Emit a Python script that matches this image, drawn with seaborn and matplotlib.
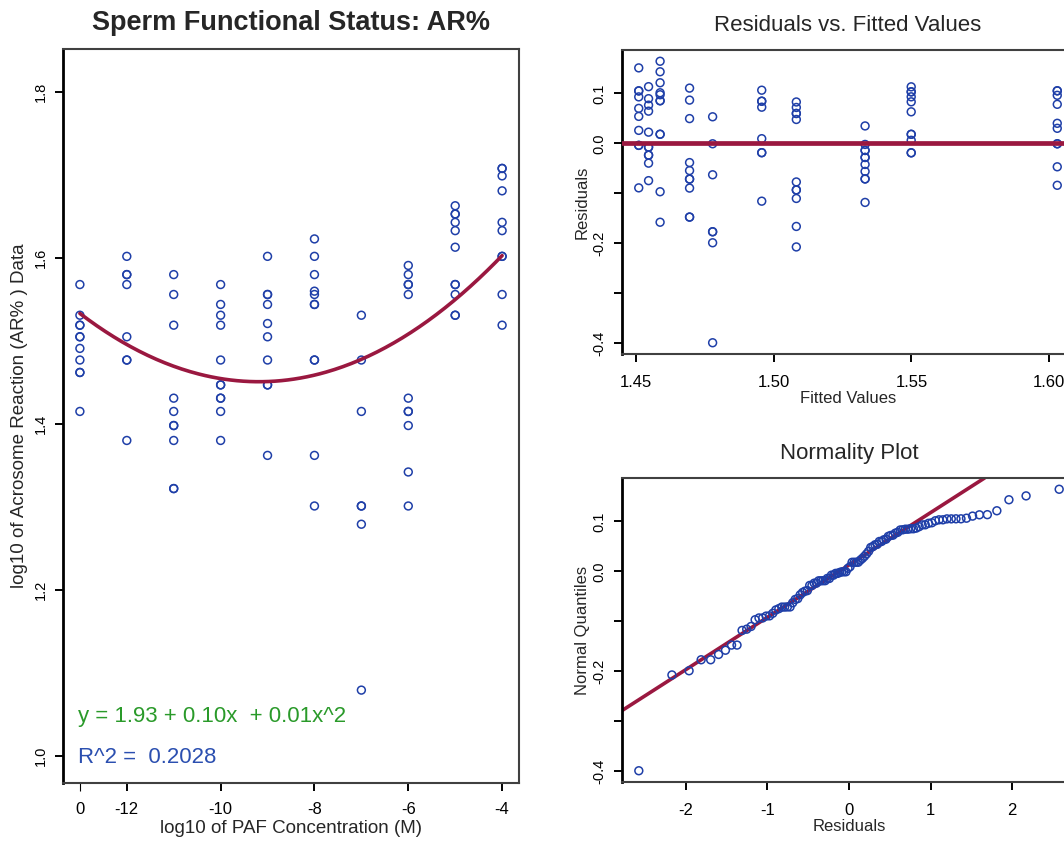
import numpy as np
import pandas as pd
import matplotlib
matplotlib.use("Agg")
import matplotlib.pyplot as plt
from matplotlib.markers import MarkerStyle
import seaborn as sns
from statistics import NormalDist

# ---------------- data ----------------
# log10 of PAF concentration; 0 stands for the control group
conc_levels = [0, -12, -11, -10, -9, -8, -7, -6, -5, -4]

# log10 of acrosome reaction (AR%) per concentration group
ar_control = [1.568, 1.531, 1.519, 1.519, 1.505, 1.505, 1.491, 1.477, 1.462, 1.462, 1.415]
ar_m12 = [1.602, 1.580, 1.580, 1.568, 1.505, 1.477, 1.477, 1.380]
ar_m11 = [1.580, 1.556, 1.519, 1.431, 1.415, 1.398, 1.398, 1.380, 1.322, 1.322]
ar_m10 = [1.568, 1.544, 1.531, 1.519, 1.477, 1.447, 1.447, 1.431, 1.431, 1.415, 1.380]
ar_m9 = [1.602, 1.556, 1.556, 1.544, 1.521, 1.505, 1.477, 1.447, 1.447, 1.362]
ar_m8 = [1.623, 1.602, 1.580, 1.560, 1.556, 1.544, 1.544, 1.477, 1.477, 1.362, 1.301]
ar_m7 = [1.531, 1.477, 1.415, 1.301, 1.301, 1.279, 1.079]
ar_m6 = [1.591, 1.580, 1.568, 1.568, 1.556, 1.431, 1.415, 1.415, 1.398, 1.342, 1.301]
ar_m5 = [1.663, 1.653, 1.653, 1.643, 1.633, 1.613, 1.568, 1.568, 1.556, 1.531, 1.531]
ar_m4 = [1.708, 1.708, 1.699, 1.681, 1.643, 1.633, 1.602, 1.602, 1.556, 1.519]
ar_groups = [ar_control, ar_m12, ar_m11, ar_m10, ar_m9, ar_m8, ar_m7, ar_m6, ar_m5, ar_m4]

# quadratic fit shown in the chart (quadratic, linear, constant term)
fit_coef = [0.005656, 0.1039, 1.928]

conc_tick_values = [0, -12, -10, -8, -6, -4]
conc_tick_labels = ["0", "-12", "-10", "-8", "-6", "-4"]
ar_ticks = [1.0, 1.2, 1.4, 1.6, 1.8]
resid_ticks = [0.1, 0.0, -0.1, -0.2, -0.3, -0.4]
resid_tick_labels = ["0.1", "0.0", "", "-0.2", "", "-0.4"]
fitted_ticks = [1.45, 1.50, 1.55, 1.60]
quant_ticks = [-2, -1, 0, 1, 2]

fit_text = "y = 1.93 + 0.10x  + 0.01x^2"
r2_text = "R^2 =  0.2028"

# ---------------- styling ----------------
BLUE = "#1f3fa8"
RED = "#9a1840"
GREEN = "#2a9a2a"
TBLUE = "#2b4fb0"

sns.set_style("ticks")
plt.rcParams["font.family"] = ["Liberation Sans", "DejaVu Sans"]
plt.rcParams["xtick.major.size"] = 6
plt.rcParams["ytick.major.size"] = 6
plt.rcParams["xtick.major.width"] = 1.4
plt.rcParams["ytick.major.width"] = 1.4
plt.rcParams["xtick.color"] = "black"
plt.rcParams["ytick.color"] = "black"

# control group sits one step left of -12 on the plotting axis
def plot_pos(c):
    return -13 if c == 0 else c

rows = []
for c, vals in zip(conc_levels, ar_groups):
    for v in vals:
        rows.append({"conc": c, "xpos": plot_pos(c), "ar": v})
df = pd.DataFrame(rows)

df["fitted"] = np.polyval(fit_coef, df["xpos"])
df["resid"] = df["ar"] - df["fitted"]

x_lo, x_hi = df["xpos"].min(), df["xpos"].max()
curve = pd.DataFrame({"x": np.linspace(x_lo, x_hi, 200)})
curve["y"] = np.polyval(fit_coef, curve["x"])

n = len(df)
nd = NormalDist()
qq = pd.DataFrame({
    "quant": [nd.inv_cdf((i - 0.5) / n) for i in range(1, n + 1)],
    "resid": np.sort(df["resid"].values),
})
q1, q3 = np.quantile(df["resid"], [0.25, 0.75])
z1, z3 = nd.inv_cdf(0.25), nd.inv_cdf(0.75)
qq_slope = (q3 - q1) / (z3 - z1)
qq_int = q1 - qq_slope * z1

def ext(lo, hi, f=0.04):
    r = hi - lo
    return lo - f * r, hi + f * r

W, H = 1064, 843
fig = plt.figure(figsize=(W / 100, H / 100), dpi=100)

def px_axes(x0, y0, x1, y1):
    return fig.add_axes([x0 / W, 1 - y1 / H, (x1 - x0) / W, (y1 - y0) / H])

ax1 = px_axes(63, 49, 519, 783)
ax2 = px_axes(622, 50, 1074, 354)
ax3 = px_axes(622, 478, 1076, 782)

open_circle = MarkerStyle("o", fillstyle="none")

def style_axes(ax):
    for side in ["top", "right", "bottom"]:
        ax.spines[side].set_color("#404040")
        ax.spines[side].set_linewidth(1.5)
    ax.spines["left"].set_color("black")
    ax.spines["left"].set_linewidth(2.0)
    ax.tick_params(axis="y", labelrotation=90, pad=5)
    for lab in ax.get_yticklabels():
        lab.set_va("center")

# ---------- left: data + quadratic fit ----------
sns.scatterplot(data=df, x="xpos", y="ar", marker=open_circle, color=BLUE,
                s=32, linewidth=1.1, ax=ax1, legend=False)
sns.lineplot(data=curve, x="x", y="y", color=RED, lw=2.6, ax=ax1)
ax1.set_xlim(*ext(x_lo, x_hi))
ax1.set_ylim(0.967, 1.852)
ax1.set_xticks([plot_pos(c) for c in conc_tick_values])
ax1.set_xticklabels(conc_tick_labels, fontsize=12)
ax1.set_yticks(ar_ticks)
ax1.set_yticklabels([f"{t:.1f}" for t in ar_ticks], fontsize=10.5)
ax1.set_xlabel("log10 of PAF Concentration (M)", fontsize=13.5, labelpad=2)
ax1.set_ylabel("log10 of Acrosome Reaction (AR% ) Data", fontsize=13.5, labelpad=4)
ax1.set_title("Sperm Functional Status: AR%", fontsize=19.5, fontweight="bold", pad=14)
ax1.text(-13.03, 1.047, fit_text, color=GREEN, fontsize=16, ha="left", va="center")
ax1.text(-13.03, 0.998, r2_text, color=TBLUE, fontsize=16, ha="left", va="center")
style_axes(ax1)
ax1.tick_params(axis="x", pad=8)
ax1.get_xticklines()[0].set_color(BLUE)
ax1.get_xticklines()[0].set_markeredgewidth(0.8)

# ---------- top right: residuals vs fitted ----------
sns.scatterplot(data=df, x="fitted", y="resid", marker=open_circle, color=BLUE,
                s=32, linewidth=1.1, ax=ax2, legend=False)
ax2.axhline(0, color=RED, lw=3.4, zorder=3)
ax2.set_xlim(*ext(df["fitted"].min(), df["fitted"].max()))
ax2.set_ylim(*ext(df["resid"].min(), df["resid"].max()))
ax2.set_xticks(fitted_ticks)
ax2.set_xticklabels([f"{t:.2f}" for t in fitted_ticks], fontsize=12)
ax2.set_yticks(resid_ticks)
ax2.set_yticklabels(resid_tick_labels, fontsize=10.5)
ax2.set_xlabel("Fitted Values", fontsize=12, labelpad=1)
ax2.set_ylabel("Residuals", fontsize=12, labelpad=2)
ax2.set_title("Residuals vs. Fitted Values", fontsize=16, pad=14)
style_axes(ax2)
ax2.tick_params(axis="x", pad=9)

# ---------- bottom right: normality plot ----------
sns.scatterplot(data=qq, x="quant", y="resid", marker=open_circle, color=BLUE,
                s=32, linewidth=1.1, ax=ax3, legend=False, zorder=3)
ax3.axline((0, qq_int), slope=qq_slope, color=RED, lw=2.6, zorder=2)
ax3.set_xlim(*ext(qq["quant"].min(), qq["quant"].max()))
ax3.set_ylim(*ext(df["resid"].min(), df["resid"].max()))
ax3.set_xticks(quant_ticks)
ax3.set_xticklabels([str(t) for t in quant_ticks], fontsize=12)
ax3.set_yticks(resid_ticks)
ax3.set_yticklabels(resid_tick_labels, fontsize=10.5)
ax3.set_xlabel("Residuals", fontsize=12, labelpad=1)
ax3.set_ylabel("Normal Quantiles", fontsize=12, labelpad=2)
ax3.set_title("Normality Plot", fontsize=16, pad=14)
style_axes(ax3)
ax3.tick_params(axis="x", pad=9)

fig.savefig("out.png", dpi=100)
